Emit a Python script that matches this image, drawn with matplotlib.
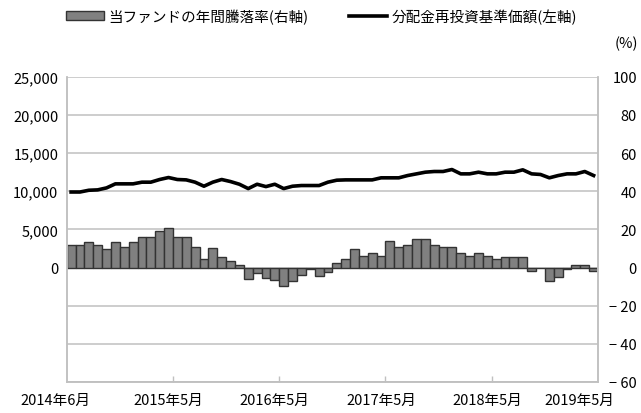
import matplotlib.pyplot as plt
from matplotlib.patches import Patch
from matplotlib.lines import Line2D
from matplotlib.transforms import ScaledTranslation
import numpy as np

plt.rcParams['font.family'] = ['Noto Sans CJK JP', 'DejaVu Sans']

# monthly data, 2014年6月 .. 2019年5月 (60 months)
annual_return = [12.0, 12.0, 13.2, 12.0, 9.8, 13.2, 10.9, 13.2, 16.0, 16.0,
                 19.3, 20.5, 16.0, 16.0, 10.7, 4.5, 10.0, 5.5, 3.2, 1.2,
                 -6.2, -2.9, -5.3, -6.5, -9.5, -7.2, -4.0, -0.6, -4.2, -2.1,
                 2.3, 4.4, 9.5, 6.3, 7.5, 6.3, 13.8, 10.7, 11.7, 14.8,
                 14.8, 11.7, 10.7, 10.7, 7.5, 6.3, 7.5, 6.3, 4.3, 5.4,
                 5.4, 5.4, -1.9, -0.5, -7.3, -5.2, -1.0, 1.1, 1.1, -1.9]
nav = [9900, 9900, 10130, 10180, 10440, 10970, 10970, 10970, 11190, 11190,
       11540, 11800, 11540, 11490, 11190, 10660, 11190, 11540, 11270, 10920,
       10350, 10920, 10610, 10920, 10350, 10660, 10750, 10750, 10750, 11190,
       11450, 11490, 11490, 11490, 11490, 11760, 11760, 11760, 12060, 12280,
       12500, 12590, 12590, 12850, 12280, 12280, 12500, 12280, 12280, 12500,
       12500, 12810, 12280, 12200, 11760, 12060, 12280, 12280, 12590, 12060]
label_idx = [0, 11, 23, 35, 47, 59]
labels = ['2014年6月', '2015年5月', '2016年5月', '2017年5月', '2018年5月', '2019年5月']
right_ticks = [100, 80, 60, 40, 20, 0, -20, -40, -60]
left_ticks = [0, 5000, 10000, 15000, 20000, 25000]

x = np.arange(len(annual_return))
grid_c = '#c0c0c0'

fig = plt.figure(figsize=(6.41, 4.14), dpi=100)
ax = fig.add_axes([0.104, 0.075, 0.829, 0.737])

# bars on the right-hand scale
ax.bar(x, annual_return, width=1.0, color='#808080', edgecolor='#333333', linewidth=1.0, zorder=2)
ax.set_xlim(-0.5, len(x) - 0.5)
ax.set_ylim(-60, 100)
ax.grid(axis='y', color=grid_c, linewidth=1.1, zorder=0)
ax.set_axisbelow(True)

# category ticks between years, labels at selected months
ax.set_xticks(label_idx)
ax.set_xticklabels(labels, fontsize=10.5)
ax.tick_params(axis='x', length=0, pad=8)
ax.set_xticks([11.5, 23.5, 35.5, 47.5], minor=True)
ax.tick_params(axis='x', which='minor', direction='in', length=4, color=grid_c, width=1)

# line on the left-hand scale
ax2 = ax.twinx()
ax2.plot(x, nav, color='black', linewidth=2.6, zorder=3)
ax2.set_ylim(-15000, 25000)
ax2.set_yticks(left_ticks)
ax2.set_yticklabels([f'{t:,}' for t in left_ticks], fontsize=10.5)
ax2.yaxis.tick_left()
ax2.tick_params(axis='y', length=0, pad=6)

ax.yaxis.tick_right()
ax.set_yticks(right_ticks)
ax.set_yticklabels([f'− {abs(t)}' if t < 0 else str(t) for t in right_ticks],
                   ha='right', fontsize=10.5)
ax.tick_params(axis='y', length=0, pad=28)

for a in (ax, ax2):
    a.spines['top'].set_visible(False)
    for s in ('left', 'right', 'bottom'):
        a.spines[s].set_color(grid_c)
        a.spines[s].set_linewidth(1.1)

# edge labels sit slightly inside the end categories
fig.canvas.draw()
tl = ax.get_xticklabels()
tl[0].set_transform(tl[0].get_transform() + ScaledTranslation(-16 / 100, 0, fig.dpi_scale_trans))
tl[-1].set_transform(tl[-1].get_transform() + ScaledTranslation(-14 / 100, 0, fig.dpi_scale_trans))

handles = [Patch(facecolor='#808080', edgecolor='#333333', linewidth=1.0),
           Line2D([0], [0], color='black', linewidth=2.6)]
fig.legend(handles, ['当ファンドの年間騰落率(右軸)', '分配金再投資基準価額(左軸)'],
           loc='center left', bbox_to_anchor=(66 / 641, 1 - 17 / 414), ncol=2, frameon=False,
           fontsize=10.5, handlelength=2.6, handleheight=0.5, handletextpad=0.3,
           columnspacing=2.8, borderpad=0, borderaxespad=0)
fig.text(0.995, 1 - 44 / 414, '(%)', ha='right', va='center', fontsize=10.5)

fig.savefig('out.png', dpi=100)
